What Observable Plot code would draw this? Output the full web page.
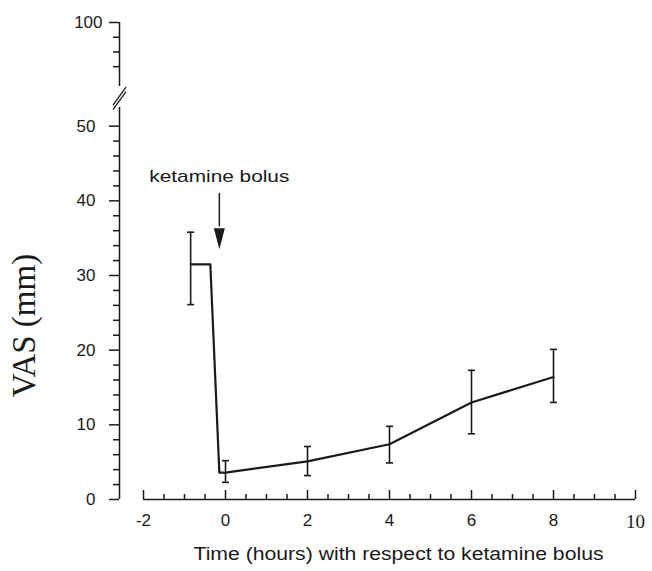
<!DOCTYPE html>
<html><head><meta charset="utf-8">
<script src="https://cdn.jsdelivr.net/npm/d3@7"></script>
<script src="https://cdn.jsdelivr.net/npm/@observablehq/plot@0.6"></script>
<style>
body{margin:0;background:#fff;}
#chart svg{display:block;background:#fff;}
</style>
</head><body><div id="chart"></div>
<script>
// ---- data ----
const time    = [-0.85, 0, 2, 4, 6, 8];
const vasMean = [31.5, 3.6, 5.1, 7.4, 13.0, 16.4];
const vasLow  = [26.1, 2.3, 3.2, 4.9, 8.8, 13.0];
const vasHigh = [35.8, 5.2, 7.1, 9.8, 17.3, 20.1];
// traced connecting line (with the step drawn at the bolus)
const pathTime = [-0.85, -0.37, -0.15, 0, 2, 4, 6, 8];
const pathVas  = [31.5, 31.5, 3.6, 3.6, 5.1, 7.4, 13.0, 16.4];
// axes
const yMajorLow  = [0, 10, 20, 30, 40, 50];
const yMajorHigh = [100];
const yMinor = [2,4,6,8,12,14,16,18,22,24,26,28,32,34,36,38,42,44,46,48,94,96,98];
const ySegments = [[0, 52.5], [91.3, 100]];
const yBreak = 70;
const xMajor = [-2, 0, 2, 4, 6, 8, 10];
const xLabelsSans = [-2, 0, 2, 4, 6, 8];
const xLabelsSerif = [10];
const xMinor = [-1.5,-1,-0.5,0.5,1,1.5,2.5,3,3.5,4.5,5,5.5,6.5,7,7.5,8.5,9,9.5];
// annotation
const bolusTime = -0.15, arrowFrom = 41, arrowTo = 33.5, bolusLabelY = 43.3;
const bolusLabel = "ketamine bolus";
const yTitle = "VAS (mm)", yTitleAt = 23.3;
const xTitle = "Time (hours) with respect to ketamine bolus";

const points = time.map((t, i) => ({t, m: vasMean[i], lo: vasLow[i], hi: vasHigh[i]}));
const path = pathTime.map((t, i) => ({t, v: pathVas[i]}));

const ink = "#1a1a1a";
const sans = "'Liberation Sans', Arial, Helvetica, sans-serif";
const serif = "'Liberation Serif', 'Times New Roman', serif";

const capSymbol = {draw(ctx) { ctx.moveTo(-3.5, 0); ctx.lineTo(3.5, 0); }};
const headSymbol = {draw(ctx) { ctx.moveTo(0, 0); ctx.lineTo(-5.5, -21); ctx.lineTo(5.5, -21); ctx.closePath(); }};
const breakSymbol = {draw(ctx) {
  ctx.moveTo(-6.5, 7); ctx.lineTo(6.5, -11);
  ctx.moveTo(-6.5, 11.5); ctx.lineTo(6.5, -6.5);
}};
const plain = d => String(d);

const chart = Plot.plot({
  width: 652, height: 571,
  marginLeft: 119, marginRight: 17, marginTop: 22, marginBottom: 72,
  style: {background: "#fff", color: ink, fontFamily: sans, overflow: "visible"},
  x: {type: "linear", domain: [-2, 10], range: [143, 635]},
  y: {type: "linear", domain: [0, 52.5, 91.3, 100], range: [499, 107, 86, 22]},
  marks: [
    // y axis (broken)
    Plot.ruleX(ySegments, {x: () => -2, dx: -24, y1: d => d[0], y2: d => d[1], stroke: ink, strokeWidth: 1.5}),
    Plot.dot([yBreak], {x: () => -2, dx: -24, y: d => d, symbol: breakSymbol, stroke: ink, strokeWidth: 1.3, fill: "none"}),
    Plot.axisY({ticks: yMinor, tickSize: 6, tickFormat: () => "", label: null, stroke: ink, strokeWidth: 1.5}),
    Plot.axisY({ticks: yMajorLow, tickSize: 10, tickPadding: 14, tickFormat: plain, label: null, fontSize: 17, fontFamily: sans, fill: ink, stroke: ink, strokeWidth: 1.5}),
    Plot.axisY({ticks: yMajorHigh, tickSize: 10, tickPadding: 7, tickFormat: plain, label: null, fontSize: 17, fontFamily: sans, fill: ink, stroke: ink, strokeWidth: 1.5}),
    // x axis
    Plot.ruleY([0], {x1: () => xMajor[0], x2: () => xMajor[xMajor.length - 1], stroke: ink, strokeWidth: 1.5}),
    Plot.axisX({ticks: xMinor, tickSize: -5, tickFormat: () => "", label: null, stroke: ink, strokeWidth: 1.5}),
    Plot.axisX({ticks: xMajor, tickSize: -9, tickFormat: () => "", label: null, stroke: ink, strokeWidth: 1.5}),
    Plot.axisX({ticks: xLabelsSans, tickSize: 0, tickPadding: 14, tickFormat: plain, label: null, fontSize: 17, fontFamily: sans, fill: ink}),
    Plot.axisX({ticks: xLabelsSerif, tickSize: 0, tickPadding: 15, tickFormat: plain, label: null, fontSize: 19, fontFamily: serif, fill: ink}),
    // data
    Plot.ruleX(points, {x: "t", y1: "lo", y2: "hi", stroke: ink, strokeWidth: 1.6}),
    Plot.dot(points, {x: "t", y: "lo", symbol: capSymbol, stroke: ink, strokeWidth: 1.6, fill: "none"}),
    Plot.dot(points, {x: "t", y: "hi", symbol: capSymbol, stroke: ink, strokeWidth: 1.6, fill: "none"}),
    Plot.line(path, {x: "t", y: "v", stroke: ink, strokeWidth: 2.2}),
    // annotation
    Plot.ruleX([bolusTime], {x: d => d, y1: () => arrowFrom, y2: () => arrowTo + 3, stroke: ink, strokeWidth: 1.5}),
    Plot.dot([bolusTime], {x: d => d, y: () => arrowTo, symbol: headSymbol, fill: ink, stroke: "none"}),
    Plot.text([bolusLabel], {x: () => bolusTime, y: () => bolusLabelY, text: d => d, fontSize: 17, fontFamily: sans, fill: ink}),
    // titles
    Plot.text([yTitle], {frameAnchor: "left", textAnchor: "middle", y: () => yTitleAt, text: d => d, rotate: -90, dx: -95, fontSize: 33, fontFamily: serif, fill: ink}),
    Plot.text([xTitle], {frameAnchor: "bottom", textAnchor: "middle", text: d => d, dx: 21, dy: 60, fontSize: 18, fontFamily: sans, fill: ink})
  ]
});

d3.select(chart).selectAll("text").each(function() {
  const t = this.textContent;
  if (t === xTitle) { this.setAttribute("textLength", 410); this.setAttribute("lengthAdjust", "spacingAndGlyphs"); }
  if (t === bolusLabel) { this.setAttribute("textLength", 140); this.setAttribute("lengthAdjust", "spacingAndGlyphs"); }
});
document.getElementById("chart").appendChild(chart);
</script>
</body></html>
